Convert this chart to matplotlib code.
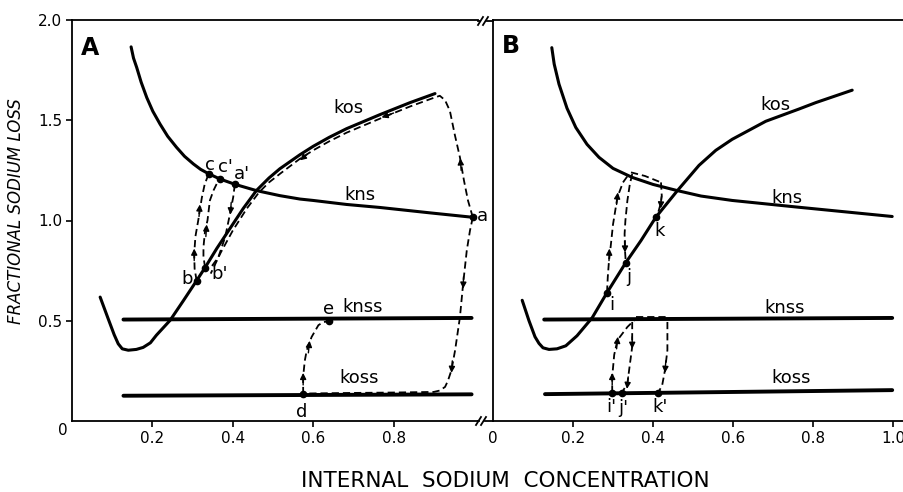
import matplotlib
matplotlib.use("Agg")
import matplotlib.pyplot as plt
from matplotlib.lines import Line2D

# ---- data ----
# panel A
a_kns_x = [0.147, 0.153, 0.161, 0.172, 0.186, 0.201, 0.219, 0.238, 0.26, 0.28, 0.302, 0.32, 0.34, 0.368, 0.406,
           0.459, 0.517, 0.567, 0.6, 0.683, 0.766, 0.891, 0.997]
a_kns_y = [1.866, 1.81, 1.763, 1.69, 1.613, 1.545, 1.481, 1.42, 1.365, 1.32, 1.282, 1.255, 1.233, 1.207, 1.18,
           1.149, 1.124, 1.107, 1.1, 1.08, 1.065, 1.038, 1.016]
a_kos_x = [0.07, 0.09, 0.105, 0.115, 0.125, 0.14, 0.16, 0.177, 0.195, 0.21, 0.244, 0.277, 0.31, 0.331, 0.36,
           0.393, 0.426, 0.459, 0.49, 0.517, 0.567, 0.6, 0.64, 0.683, 0.766, 0.841, 0.903]
a_kos_y = [0.618, 0.51, 0.43, 0.385, 0.36, 0.353, 0.357, 0.367, 0.39, 0.428, 0.502, 0.60, 0.70, 0.765, 0.86,
           0.96, 1.06, 1.15, 1.212, 1.258, 1.328, 1.37, 1.415, 1.458, 1.528, 1.588, 1.633]
a_knss_x = [0.128, 0.994]
a_knss_y = [0.506, 0.514]
a_koss_x = [0.128, 0.994]
a_koss_y = [0.126, 0.133]

# dashed paths in A
a_up_x = [0.997, 0.985, 0.975, 0.965, 0.952, 0.94, 0.928, 0.915, 0.9, 0.84, 0.766, 0.683, 0.64, 0.6, 0.567,
          0.52, 0.49, 0.465, 0.435, 0.40, 0.37, 0.345]
a_up_y = [1.016, 1.10, 1.2, 1.315, 1.43, 1.547, 1.60, 1.622, 1.612, 1.568, 1.508, 1.438, 1.395, 1.35, 1.308,
          1.237, 1.19, 1.14, 1.06, 0.95, 0.84, 0.735]
a_down_x = [0.997, 0.99, 0.982, 0.973, 0.965, 0.953, 0.944, 0.935, 0.928, 0.915, 0.9, 0.8, 0.7, 0.575]
a_down_y = [1.016, 0.95, 0.85, 0.685, 0.518, 0.353, 0.254, 0.2, 0.17, 0.152, 0.145, 0.142, 0.14, 0.137]
a_de_x = [0.575, 0.575, 0.579, 0.584, 0.596, 0.613, 0.625, 0.64]
a_de_y = [0.134, 0.22, 0.30, 0.353, 0.419, 0.478, 0.493, 0.499]
a_bc_x = [0.31, 0.305, 0.304, 0.307, 0.314, 0.323, 0.33, 0.34]
a_bc_y = [0.70, 0.76, 0.833, 0.92, 1.0, 1.114, 1.18, 1.233]
a_bc2_x = [0.331, 0.327, 0.327, 0.331, 0.337, 0.343, 0.352, 0.36, 0.368]
a_bc2_y = [0.765, 0.82, 0.867, 0.95, 1.0, 1.10, 1.15, 1.183, 1.206]
a_ab_x = [0.405, 0.401, 0.393, 0.381, 0.364, 0.343]
a_ab_y = [1.18, 1.116, 1.033, 0.917, 0.817, 0.759]

a_pts = {"a": (0.997, 1.016), "c": (0.34, 1.233), "c'": (0.368, 1.206), "a'": (0.405, 1.18),
         "b": (0.31, 0.70), "b'": (0.331, 0.765), "d": (0.575, 0.134), "e": (0.64, 0.499)}
a_pt_labels = {"a": (1.02, 1.02), "c": (0.342, 1.277), "c'": (0.381, 1.265), "a'": (0.422, 1.232),
               "b": (0.286, 0.71), "b'": (0.367, 0.735), "d": (0.571, 0.046), "e": (0.638, 0.56)}
a_curve_labels = {"kos": (0.687, 1.562), "kns": (0.716, 1.129), "knss": (0.722, 0.567), "koss": (0.714, 0.214)}

# panel B
b_kns_x = [0.147, 0.153, 0.165, 0.185, 0.207, 0.235, 0.265, 0.30, 0.348, 0.40, 0.461, 0.52, 0.598, 0.765, 0.998]
b_kns_y = [1.862, 1.78, 1.68, 1.56, 1.464, 1.38, 1.315, 1.26, 1.215, 1.18, 1.149, 1.122, 1.1, 1.066, 1.02]
b_kos_x = [0.073, 0.09, 0.105, 0.115, 0.125, 0.14, 0.16, 0.182, 0.21, 0.248, 0.285, 0.332, 0.37, 0.407, 0.461,
           0.515, 0.557, 0.598, 0.682, 0.765, 0.807, 0.898]
b_kos_y = [0.602, 0.50, 0.42, 0.387, 0.365, 0.357, 0.36, 0.375, 0.425, 0.515, 0.64, 0.79, 0.90, 1.016, 1.149,
           1.275, 1.35, 1.405, 1.495, 1.556, 1.588, 1.65]
b_knss_x = [0.128, 0.998]
b_knss_y = [0.506, 0.514]
b_koss_x = [0.13, 0.998]
b_koss_y = [0.134, 0.154]

b_arc1_x = [0.285, 0.287, 0.29, 0.294, 0.30, 0.311, 0.325, 0.34]
b_arc1_y = [0.64, 0.72, 0.80, 0.867, 0.98, 1.116, 1.19, 1.232]
b_arc2_x = [0.348, 0.342, 0.336, 0.331, 0.329, 0.33, 0.332]
b_arc2_y = [1.232, 1.18, 1.1, 1.0, 0.933, 0.85, 0.79]
b_top_x = [0.345, 0.38, 0.42]
b_top_y = [1.24, 1.222, 1.19]
b_arc3_x = [0.42, 0.422, 0.419, 0.413, 0.407]
b_arc3_y = [1.19, 1.12, 1.083, 1.04, 1.016]
b_low1_x = [0.298, 0.298, 0.303, 0.311, 0.336, 0.357]
b_low1_y = [0.141, 0.22, 0.33, 0.403, 0.469, 0.51]
b_low_top_x = [0.357, 0.44]
b_low_top_y = [0.52, 0.52]
b_low2_x = [0.348, 0.348, 0.348, 0.342, 0.336, 0.322]
b_low2_y = [0.494, 0.43, 0.37, 0.28, 0.187, 0.141]
b_low3_x = [0.436, 0.436, 0.43, 0.423, 0.413]
b_low3_y = [0.494, 0.353, 0.254, 0.179, 0.141]

b_pts = {"i": (0.285, 0.64), "j": (0.332, 0.79), "k": (0.407, 1.016),
         "i'": (0.298, 0.141), "j'": (0.322, 0.141), "k'": (0.413, 0.141)}
b_pt_labels = {"i": (0.298, 0.58), "j": (0.34, 0.72), "k": (0.417, 0.95),
               "i'": (0.296, 0.071), "j'": (0.327, 0.065), "k'": (0.417, 0.071)}
b_curve_labels = {"kos": (0.705, 1.577), "kns": (0.735, 1.114), "knss": (0.728, 0.562), "koss": (0.745, 0.214)}

W, H = 904, 492
fig = plt.figure(figsize=(W / 100, H / 100), dpi=100)
ax1 = fig.add_axes([72 / W, 71 / H, 406 / W, 401 / H])
ax2 = fig.add_axes([493 / W, 71 / H, 411 / W, 401 / H])
ax1.set_xlim(0, 406 / 402)
ax2.set_xlim(0, 411 / 400)
for ax in (ax1, ax2):
    ax.set_ylim(0, 2.0)
    ax.spines["right"].set_visible(False)
    for s in ("left", "top", "bottom"):
        ax.spines[s].set_linewidth(1.3)
    ax.tick_params(direction="out", length=4, width=1.2, labelsize=11, pad=3)

solid = dict(color="black", lw=2.2, solid_capstyle="round", solid_joinstyle="round")
thick = dict(color="black", lw=2.8, solid_capstyle="round")
dash = dict(color="black", lw=1.3, dashes=(4, 2.2))


def arrow(ax, x, y, dx, dy):
    ax.annotate("", xy=(x + dx, y + dy), xytext=(x, y),
                arrowprops=dict(arrowstyle="-|>", color="black", lw=1.0,
                                mutation_scale=9, shrinkA=0, shrinkB=0))


def lab(ax, x, y, s, size=13):
    ax.text(x, y, s, ha="center", va="center", fontsize=size)


# panel A
ax1.plot(a_kns_x, a_kns_y, **solid)
ax1.plot(a_kos_x, a_kos_y, **solid)
ax1.plot(a_knss_x, a_knss_y, **thick)
ax1.plot(a_koss_x, a_koss_y, **thick)
for xs, ys in [(a_up_x, a_up_y), (a_down_x, a_down_y), (a_de_x, a_de_y),
               (a_bc_x, a_bc_y), (a_bc2_x, a_bc2_y), (a_ab_x, a_ab_y)]:
    ax1.plot(xs, ys, **dash)
arrow(ax1, 0.968, 1.25, -0.002, 0.06)
arrow(ax1, 0.80, 1.536, -0.03, -0.022)
arrow(ax1, 0.585, 1.33, -0.018, -0.03)
arrow(ax1, 0.974, 0.72, -0.001, -0.06)
arrow(ax1, 0.946, 0.30, -0.002, -0.06)
arrow(ax1, 0.575, 0.18, 0, 0.06)
arrow(ax1, 0.588, 0.34, 0.003, 0.06)
arrow(ax1, 0.304, 0.80, 0, 0.06)
arrow(ax1, 0.316, 1.02, 0.002, 0.06)
arrow(ax1, 0.333, 0.92, 0.002, 0.06)
arrow(ax1, 0.396, 1.09, -0.002, -0.06)
for k, (x, y) in a_pts.items():
    ax1.plot(x, y, "o", color="black", ms=4.5)
for k, (x, y) in a_pt_labels.items():
    lab(ax1, x, y, k, 13)
for k, (x, y) in a_curve_labels.items():
    lab(ax1, x, y, k, 13)

# panel B
ax2.plot(b_kns_x, b_kns_y, **solid)
ax2.plot(b_kos_x, b_kos_y, **solid)
ax2.plot(b_knss_x, b_knss_y, **thick)
ax2.plot(b_koss_x, b_koss_y, **thick)
for xs, ys in [(b_arc1_x, b_arc1_y), (b_arc2_x, b_arc2_y), (b_top_x, b_top_y),
               (b_arc3_x, b_arc3_y), (b_low1_x, b_low1_y), (b_low_top_x, b_low_top_y),
               (b_low2_x, b_low2_y), (b_low3_x, b_low3_y)]:
    ax2.plot(xs, ys, **dash)
arrow(ax2, 0.29, 0.80, 0.001, 0.06)
arrow(ax2, 0.309, 1.08, 0.003, 0.06)
arrow(ax2, 0.33, 0.90, 0, -0.06)
arrow(ax2, 0.421, 1.12, -0.002, -0.06)
arrow(ax2, 0.298, 0.18, 0, 0.06)
arrow(ax2, 0.309, 0.36, 0.003, 0.06)
arrow(ax2, 0.348, 0.42, 0, -0.06)
arrow(ax2, 0.338, 0.22, -0.003, -0.06)
arrow(ax2, 0.432, 0.30, -0.002, -0.06)
for k, (x, y) in b_pts.items():
    ax2.plot(x, y, "o", color="black", ms=4.5)
for k, (x, y) in b_pt_labels.items():
    lab(ax2, x, y, k, 13)
for k, (x, y) in b_curve_labels.items():
    lab(ax2, x, y, k, 13)

# ticks and labels
ax1.set_yticks([0.5, 1.0, 1.5, 2.0], ["0.5", "1.0", "1.5", "2.0"])
ax1.set_xticks([0.2, 0.4, 0.6, 0.8], ["0.2", "0.4", "0.6", "0.8"])
ax1.text(-0.022, -0.045, "0", ha="center", va="center", fontsize=11, clip_on=False)
ax2.set_yticks([])
ax2.set_xticks([0, 0.2, 0.4, 0.6, 0.8, 1.0], ["0", "0.2", "0.4", "0.6", "0.8", "1.0"])
ax2.xaxis.get_major_ticks()[0].tick1line.set_visible(False)

ax1.text(0.045, 1.86, "A", fontsize=17, fontweight="bold", ha="center", va="center")
ax2.text(0.045, 1.87, "B", fontsize=17, fontweight="bold", ha="center", va="center")

fig.text(505 / W, 1 - 481 / H, "INTERNAL  SODIUM  CONCENTRATION", ha="center", va="center",
         fontsize=15.5)
fig.text(16 / W, 1 - 211 / H, "FRACTIONAL SODIUM LOSS", ha="center", va="center",
         rotation=90, fontsize=12, style="italic")


# axis break marks
def fline(x0, y0, x1, y1, lw=1.3):
    fig.add_artist(Line2D([x0 / W, x1 / W], [1 - y0 / H, 1 - y1 / H], color="black", lw=lw))


fline(478, 21, 480, 21)
fline(478, 25, 483, 17)
fline(483, 25, 488, 17)
fline(487, 21, 493, 21)
fline(478, 421, 479, 421)
fline(476, 425, 481, 417)
fline(481, 425, 486, 417)
fline(485, 421, 493, 421)

fig.savefig("out.png", dpi=100)
